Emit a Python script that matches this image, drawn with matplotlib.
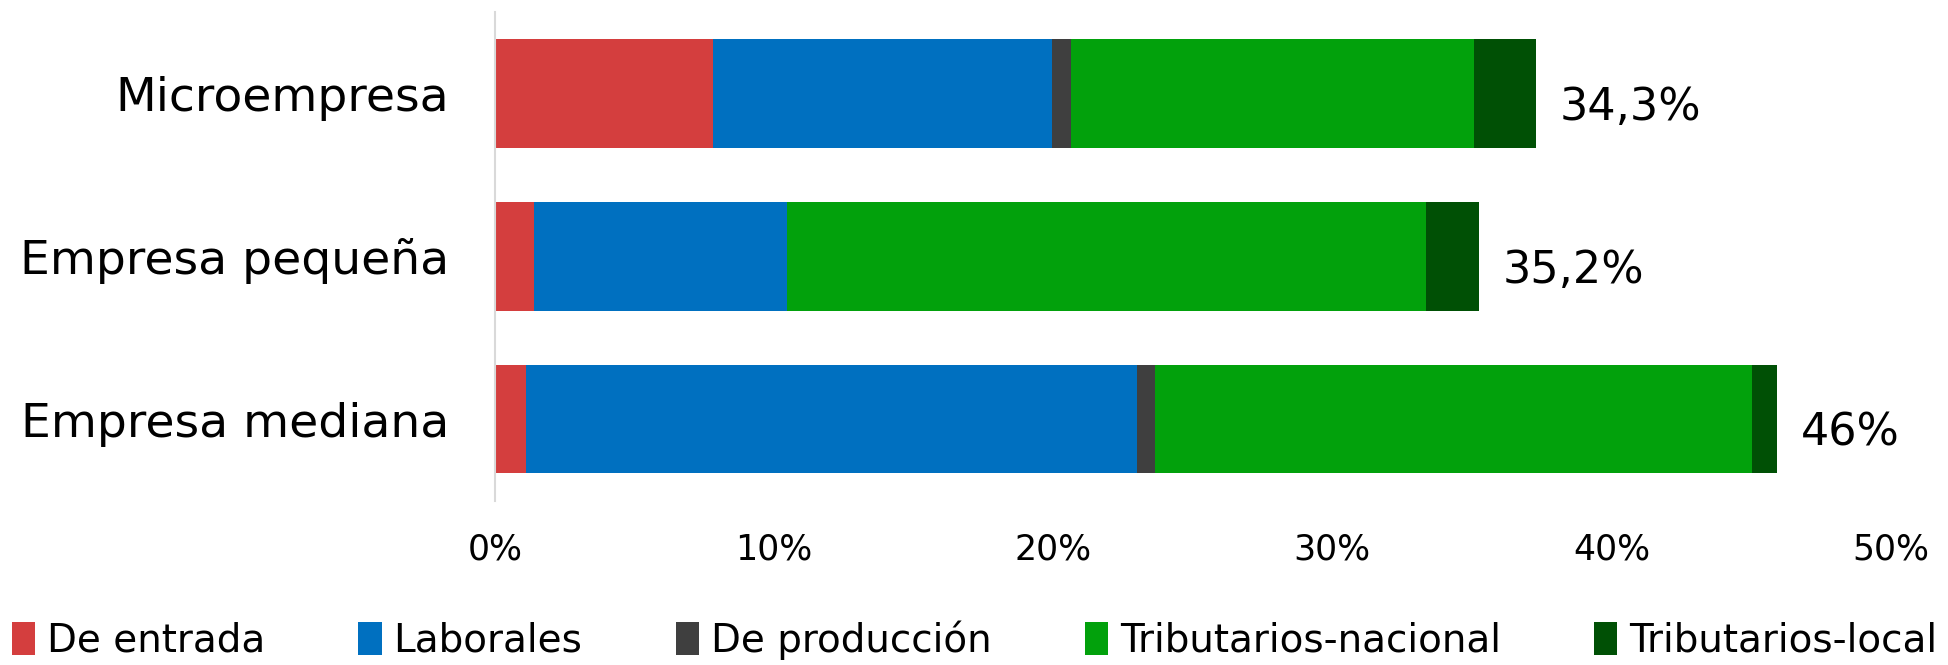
import matplotlib.pyplot as plt
import numpy as np

categories = ["Microempresa", "Empresa pequeña", "Empresa mediana"]
series_names = ["De entrada", "Laborales", "De producción",
                "Tributarios-nacional", "Tributarios-local"]
colors = ["#D43E3E", "#0070C0", "#3F3F3F", "#02A10C", "#005005"]

# values (percent)
de_entrada = [7.8, 1.4, 1.1]
laborales = [12.15, 9.05, 21.9]
de_produccion = [0.68, 0.0, 0.64]
trib_nacional = [14.45, 22.9, 21.4]
trib_local = [2.2, 1.9, 0.9]
total_labels = ["34,3%", "35,2%", "46%"]

series = [de_entrada, laborales, de_produccion, trib_nacional, trib_local]

plt.rcParams["font.family"] = ["DejaVu Sans"]

fig = plt.figure(figsize=(19.49, 6.65), dpi=100)
ax = fig.add_axes([0.254, 0.247, 0.716, 0.735])

y = np.arange(len(categories))
left = np.zeros(len(categories))
for name, vals, c in zip(series_names, series, colors):
    ax.barh(y, vals, left=left, height=0.665, color=c, label=name)
    left += np.array(vals)

for yi, tot, lab in zip(y, left, total_labels):
    ax.annotate(lab, (tot, yi), xytext=(17, -10), textcoords="offset points",
                ha="left", va="center", fontsize=32)

ax.set_xlim(0, 50)
ax.set_ylim(2.5, -0.5)
ax.set_yticks(y)
ax.set_yticklabels(categories, fontsize=34)
ax.set_xticks(range(0, 51, 10))
ax.set_xticklabels([f"{v}%" for v in range(0, 51, 10)], fontsize=25)
ax.tick_params(length=0)
ax.tick_params(axis="y", pad=33)
ax.tick_params(axis="x", pad=23)
for s in ["top", "right", "bottom"]:
    ax.spines[s].set_visible(False)
ax.spines["left"].set_color("#D9D9D9")
ax.spines["left"].set_linewidth(1.5)

fig.legend(loc="lower center", bbox_to_anchor=(0.5, -0.045), ncol=5,
           frameon=False, fontsize=28, handlelength=0.6, handleheight=0.9,
           handletextpad=0.3, columnspacing=2.4)

fig.savefig("out.png", dpi=100)
